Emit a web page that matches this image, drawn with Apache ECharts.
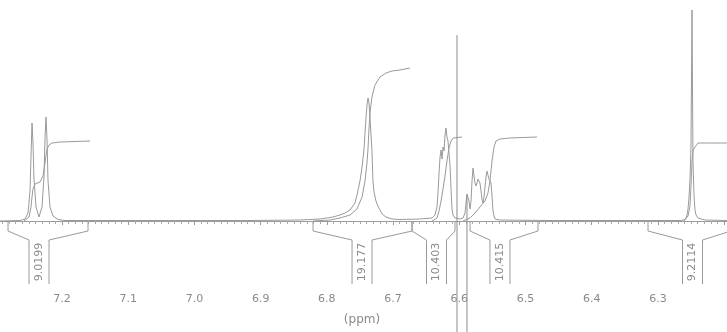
<!DOCTYPE html>
<html>
<head>
<meta charset="utf-8">
<script src="https://cdn.jsdelivr.net/npm/echarts@6/dist/echarts.min.js"></script>
<style>
  html, body { margin: 0; padding: 0; background: #fff; }
  #chart { width: 727px; height: 332px; }
</style>
</head>
<body>
<div id="chart"></div>
<script>
// 1H NMR trace, 6.2 - 7.3 ppm: [chemical shift (ppm), intensity]
const spectrum = [
  [7.2936, 0], [7.2634, 0.5], [7.2558, 2], [7.2513, 8], [7.2483, 30], [7.2468, 65],
  [7.2453, 98], [7.2438, 78], [7.2423, 42], [7.2392, 14], [7.2347, 4], [7.2302, 14],
  [7.2272, 44], [7.2256, 84], [7.2241, 104], [7.2226, 80], [7.2211, 40], [7.2181, 14],
  [7.2136, 5], [7.2060, 1.5], [7.1954, 0.5], [7.0671, 0.5], [6.9161, 0.5], [6.8406, 1],
  [6.8104, 2], [6.7907, 4], [6.7802, 6], [6.7726, 8], [6.7651, 11], [6.7575, 18],
  [6.7545, 26], [6.7500, 40], [6.7469, 54], [6.7439, 72], [6.7424, 88], [6.7409, 103],
  [6.7394, 116], [6.7379, 123], [6.7364, 118], [6.7349, 104], [6.7319, 70], [6.7304, 40],
  [6.7288, 29], [6.7258, 20], [6.7243, 17], [6.7198, 11], [6.7167, 7], [6.7107, 4],
  [6.7016, 2], [6.6896, 1.5], [6.6594, 2], [6.6412, 3], [6.6367, 6], [6.6337, 14],
  [6.6322, 28], [6.6306, 48], [6.6291, 64], [6.6276, 71], [6.6261, 62], [6.6246, 74],
  [6.6231, 70], [6.6216, 86], [6.6201, 93], [6.6186, 84], [6.6171, 80], [6.6156, 78],
  [6.6140, 55], [6.6125, 32], [6.6110, 12], [6.6095, 6], [6.6065, 3], [6.5989, 2],
  [6.5944, 3], [6.5914, 8], [6.5899, 18], [6.5884, 27], [6.5869, 29], [6.5854, 20],
  [6.5838, 12], [6.5823, 20], [6.5808, 40], [6.5793, 53], [6.5778, 45], [6.5763, 38],
  [6.5748, 35], [6.5733, 38], [6.5718, 42], [6.5703, 43], [6.5688, 38], [6.5672, 30],
  [6.5657, 22], [6.5642, 18], [6.5627, 24], [6.5612, 34], [6.5597, 44], [6.5582, 50],
  [6.5567, 48], [6.5552, 42], [6.5537, 41], [6.5521, 38], [6.5506, 25], [6.5491, 10],
  [6.5476, 5], [6.5461, 2], [6.5386, 1], [6.4630, 0.5], [6.3875, 0.5], [6.2969, 0.5],
  [6.2667, 0.5], [6.2607, 1], [6.2576, 3], [6.2561, 6], [6.2546, 12], [6.2531, 24],
  [6.2516, 42], [6.2501, 76], [6.2486, 211], [6.2471, 60], [6.2456, 26], [6.2441, 11],
  [6.2425, 6], [6.2395, 3], [6.2365, 1.5], [6.2290, 1], [6.1958, 0.5]
];

// running integrals over each integrated region
const integralA = [
  [7.2574, 0], [7.2498, 4], [7.2468, 14], [7.2453, 24], [7.2438, 32], [7.2407, 37],
  [7.2332, 39], [7.2287, 45], [7.2256, 58], [7.2241, 66], [7.2226, 72], [7.2196, 76],
  [7.2151, 78], [7.2030, 79], [7.1577, 80]
];
const integralB = [
  [6.8209, 0], [6.7953, 1], [6.7802, 3], [6.7651, 6], [6.7545, 12], [6.7469, 24],
  [6.7424, 40], [6.7394, 58], [6.7379, 72], [6.7364, 92], [6.7349, 108], [6.7319, 124],
  [6.7274, 136], [6.7198, 144], [6.7107, 148], [6.7016, 150], [6.6896, 151], [6.6745, 153]
];
const integralC = [
  [6.6412, 0], [6.6337, 3], [6.6306, 10], [6.6276, 20], [6.6246, 32], [6.6216, 45],
  [6.6186, 60], [6.6156, 73], [6.6125, 80], [6.6095, 83], [6.5959, 84]
];
const integralD = [
  [6.5944, 0], [6.5838, 3], [6.5763, 8], [6.5688, 14], [6.5612, 20], [6.5567, 28],
  [6.5537, 40], [6.5506, 60], [6.5476, 74], [6.5446, 80], [6.5386, 82], [6.5235, 83],
  [6.4827, 84]
];
const integralE = [
  [6.2607, 0], [6.2546, 5], [6.2516, 15], [6.2501, 35], [6.2486, 60], [6.2471, 71],
  [6.2441, 74], [6.2395, 78], [6.2290, 78], [6.1958, 78]
];

// integrated regions (ppm) and their integral values
const regionFrom = [7.2815, 6.8209, 6.6714, 6.5838, 6.3150];
const regionTo = [7.1607, 6.6714, 6.6065, 6.4812, 6.1900];
const regionMark = [7.2347, 6.7469, 6.6344, 6.5386, 6.2478];
const integralValues = ['9.0199', '19.177', '10.403', '10.415', '9.2114'];

// cursor lines: position (ppm) and upper end (intensity)
const cursorPpm = [6.6035, 6.5884];
const cursorTop = [186, 26];

// shift axis labels
const tickLabels = ['7.2', '7.1', '7.0', '6.9', '6.8', '6.7', '6.6', '6.5', '6.4', '6.3'];

const ink = '#9a9a9a';
const textInk = '#8a8a8a';

const chart = echarts.init(document.getElementById('chart'), null, { renderer: 'canvas' });

const traceStyle = { color: ink, width: 1 };

function traceSeries(data) {
  return {
    type: 'line', xAxisIndex: 0, yAxisIndex: 0, data: data,
    showSymbol: false, symbol: 'none', lineStyle: traceStyle,
    silent: true, animation: false
  };
}

const bracketSeries = {
  type: 'custom',
  xAxisIndex: 0, yAxisIndex: 0,
  silent: true, animation: false,
  data: regionFrom.map((f, i) => [f, regionTo[i], regionMark[i]]),
  encode: { x: [0, 1, 2], y: -1 },
  renderItem: function (params, api) {
    const i = params.dataIndex;
    const xL = api.coord([api.value(0), 0])[0];
    const xR = api.coord([api.value(1), 0])[0];
    const xC = api.coord([api.value(2), 0])[0];
    const yEndTop = api.coord([0, -1])[1];
    const yEnd = api.coord([0, -10])[1];
    const yBox = api.coord([0, -19])[1];
    const yAxis = api.coord([0, -63])[1];
    const half = 10;
    const st = { stroke: ink, lineWidth: 1, fill: null };
    return {
      type: 'group',
      children: [
        { type: 'polyline', shape: { points: [[xL, yEndTop], [xL, yEnd], [xC - half, yBox], [xC - half, yAxis]] }, style: st },
        { type: 'polyline', shape: { points: [[xR, yEndTop], [xR, yEnd], [xC + half, yBox], [xC + half, yAxis]] }, style: st },
        {
          type: 'text', x: xC, y: (yBox + yAxis) / 2, rotation: Math.PI / 2,
          style: {
            text: integralValues[i], fill: textInk,
            font: '11px "DejaVu Sans"', align: 'center', verticalAlign: 'middle'
          }
        }
      ]
    };
  }
};

const cursorSeries = cursorPpm.map((p, i) => ({
  type: 'line', xAxisIndex: 1, yAxisIndex: 1,
  data: [[p, cursorTop[i]], [p, -111]],
  showSymbol: false, symbol: 'none',
  lineStyle: { color: '#8c8c8c', width: 1 },
  silent: true, animation: false
}));

chart.setOption({
  animation: false,
  backgroundColor: '#ffffff',
  grid: [
    { left: -4.22, right: -63.4, top: 0, bottom: 47, outerBoundsMode: 'none', containLabel: false },
    { left: -4.22, right: -63.4, top: 0, bottom: 0, outerBoundsMode: 'none', containLabel: false }
  ],
  xAxis: [
    {
      type: 'value', gridIndex: 0, inverse: true, min: 6.1, max: 7.3, interval: 0.1,
      axisLine: { show: true, lineStyle: { color: ink, width: 1 } },
      axisTick: { show: true, length: 4, lineStyle: { color: ink } },
      minorTick: { show: true, splitNumber: 10, length: 3, lineStyle: { color: '#aaaaaa' } },
      splitLine: { show: false },
      minorSplitLine: { show: false },
      axisLabel: {
        color: textInk, fontSize: 11, fontFamily: 'DejaVu Sans', margin: 9,
        formatter: function (v) {
          const s = v.toFixed(1);
          return tickLabels.indexOf(s) >= 0 ? s : '';
        }
      }
    },
    { type: 'value', gridIndex: 1, inverse: true, min: 6.1, max: 7.3, show: false }
  ],
  yAxis: [
    { type: 'value', gridIndex: 0, min: -64, max: 221, show: false },
    { type: 'value', gridIndex: 1, min: -111, max: 221, show: false }
  ],
  graphic: [
    {
      type: 'text', x: 362, y: 320,
      style: { text: '(ppm)', fill: textInk, font: '12px "DejaVu Sans"', align: 'center', verticalAlign: 'middle' }
    }
  ],
  series: [
    traceSeries(spectrum),
    traceSeries(integralA),
    traceSeries(integralB),
    traceSeries(integralC),
    traceSeries(integralD),
    traceSeries(integralE),
    bracketSeries
  ].concat(cursorSeries)
});
</script>
</body>
</html>
